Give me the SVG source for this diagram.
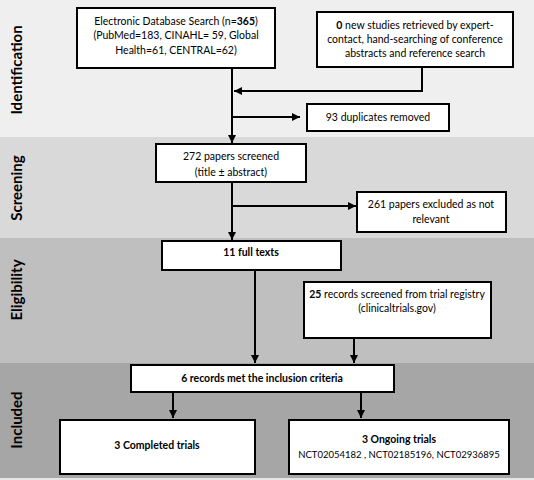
<svg xmlns="http://www.w3.org/2000/svg" width="534" height="480" viewBox="0 0 534 480">
<style>
.box{fill:#fff;stroke:#000;stroke-width:2}
.t{font-family:Lato,"Liberation Sans",sans-serif;font-size:10.5px;fill:#000;text-anchor:middle}
.b{font-weight:bold}
.lab{font-family:Lato,"Liberation Sans",sans-serif;font-size:15px;font-weight:bold;fill:#000;text-anchor:middle}
.c{stroke:#000;stroke-width:2;fill:none;marker-end:url(#ah)}
</style>
<defs>
<marker id="ah" markerUnits="userSpaceOnUse" markerWidth="9" markerHeight="8" refX="8" refY="4" orient="auto">
<path d="M0,0 L8,4 L0,8 z" fill="#000"/>
</marker>
</defs>
<g id="bands">
<rect x="0" y="0" width="534" height="137" fill="#efefef"/>
<rect x="0" y="137" width="534" height="101" fill="#d9d9d9"/>
<rect x="0" y="238" width="534" height="125" fill="#bfbfbf"/>
<rect x="0" y="363" width="534" height="115" fill="#a6a6a6"/>
<rect x="0" y="478" width="534" height="2" fill="#e6e6e6"/>
<text class="lab" transform="translate(22,70) rotate(-90)">Identification</text>
<text class="lab" transform="translate(22,188) rotate(-90)">Screening</text>
<text class="lab" transform="translate(22,290) rotate(-90)">Eligibility</text>
<text class="lab" transform="translate(22,420) rotate(-90)">Included</text>
</g>
<g id="connectors">
<line class="c" x1="232" y1="69" x2="232" y2="143"/>
<polyline class="c" points="422,68 422,91 234,91"/>
<line class="c" x1="232" y1="117" x2="300" y2="117"/>
<line class="c" x1="232" y1="183" x2="232" y2="240"/>
<line class="c" x1="232" y1="206" x2="356" y2="206"/>
<line class="c" x1="255" y1="271" x2="255" y2="363"/>
<line class="c" x1="354" y1="339" x2="354" y2="363"/>
<line class="c" x1="173" y1="393" x2="173" y2="418"/>
<line class="c" x1="361" y1="393" x2="361" y2="418"/>
</g>
<g id="n-electronic">
<rect class="box" x="77" y="8" width="198" height="60"/>
<text class="t" x="176" y="25">Electronic Database Search (n=<tspan class="b">365</tspan>)</text>
<text class="t" x="176" y="39">(PubMed=183, CINAHL= 59, Global</text>
<text class="t" x="176" y="54">Health=61, CENTRAL=62)</text>
</g>
<g id="n-other">
<rect class="box" x="317" y="12" width="196" height="55"/>
<text class="t" x="415" y="29"><tspan class="b">0</tspan> new studies retrieved by expert-</text>
<text class="t" x="415" y="43">contact, hand-searching of conference</text>
<text class="t" x="415" y="57">abstracts and reference search</text>
</g>
<g id="n-duplicates">
<rect class="box" x="307" y="104" width="142" height="27"/>
<text class="t" x="378" y="121">93 duplicates removed</text>
</g>
<g id="n-screened">
<rect class="box" x="156" y="144" width="150" height="38"/>
<text class="t" x="231" y="160">272 papers screened</text>
<text class="t" x="231" y="176">(title ± abstract)</text>
</g>
<g id="n-excluded">
<rect class="box" x="357" y="192" width="149" height="40"/>
<text class="t" x="431" y="208">261 papers excluded as not</text>
<text class="t" x="431" y="223">relevant</text>
</g>
<g id="n-fulltexts">
<rect class="box" x="162" y="241" width="179" height="29"/>
<text class="t b" x="251" y="256">11 full texts</text>
</g>
<g id="n-registry">
<rect class="box" x="304" y="282" width="187" height="56"/>
<text class="t" x="397" y="298"><tspan class="b">25</tspan> records screened from trial registry</text>
<text class="t" x="397" y="312">(clinicaltrials.gov)</text>
</g>
<g id="n-included">
<rect class="box" x="131" y="365" width="263" height="27"/>
<text class="t b" x="262" y="382">6 records met the inclusion criteria</text>
</g>
<g id="n-completed">
<rect class="box" x="60" y="420" width="195" height="54"/>
<text class="t b" x="157" y="449">3 Completed trials</text>
</g>
<g id="n-ongoing">
<rect class="box" x="289" y="420" width="220" height="54"/>
<text class="t b" x="399" y="443">3 Ongoing trials</text>
<text class="t" x="399" y="458" style="font-size:9.5px">NCT02054182 , NCT02185196, NCT02936895</text>
</g>
</svg>
